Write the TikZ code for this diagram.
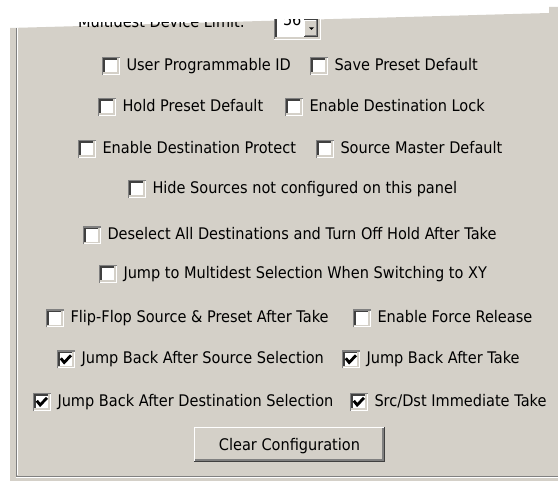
\documentclass[tikz,border=0pt]{standalone}
\usepackage{fontspec}
\setmainfont{DejaVu Sans}
\usepackage{graphicx}
\usetikzlibrary{calc}
\definecolor{winbg}{HTML}{D4D0C8}
\definecolor{shadow}{HTML}{808080}
\definecolor{dkshadow}{HTML}{404040}
\newsavebox\refbox
\newcommand\hs[1]{\scalebox{\sx}[1]{#1}}
\tikzset{
  lbl/.style={inner sep=0pt, outer sep=0pt, anchor=base west, text=black, font=\fontsize{16}{19}\selectfont},
  cbx/.style={minimum width=18pt, minimum height=18pt, inner sep=0pt, outer sep=0pt, fill=white, anchor=west,
    path picture={
      \coordinate (sw) at (path picture bounding box.south west);
      \coordinate (ne) at (path picture bounding box.north east);
      \draw[shadow,line width=1.4pt] ($(sw)+(0.7pt,0pt)$) |- ($(ne)+(0pt,-0.7pt)$);
      \draw[dkshadow,line width=1.4pt] ($(sw)+(2.1pt,1.4pt)$) |- ($(ne)+(-1.4pt,-2.1pt)$);
      \draw[winbg,line width=1.4pt] ($(sw)+(1.4pt,2.1pt)$) -| ($(ne)+(-2.1pt,-1.4pt)$);
    }},
  btn/.style={minimum width=191pt, minimum height=35pt, inner sep=0pt, outer sep=0pt, fill=winbg,
    text height=11.7pt, text depth=0pt, text=black, font=\fontsize{16}{19}\selectfont,
    path picture={
      \coordinate (sw) at (path picture bounding box.south west);
      \coordinate (ne) at (path picture bounding box.north east);
      \draw[white,line width=1.4pt] ($(sw)+(0.7pt,1.4pt)$) |- ($(ne)+(-1.4pt,-0.7pt)$);
      \draw[dkshadow,line width=1.4pt] ($(sw)+(0pt,0.7pt)$) -| ($(ne)+(-0.7pt,0pt)$);
      \draw[shadow,line width=1.4pt] ($(sw)+(1.4pt,2.1pt)$) -| ($(ne)+(-2.1pt,-1.4pt)$);
    }},
  checkmark/.style={line width=2.8pt, black, line join=miter, line cap=butt}
}
\newcommand\chk[1]{\draw[checkmark] ($(#1.west)+(3.8pt,1.2pt)$) -- ($(#1.west)+(7.2pt,-3pt)$) -- ($(#1.west)+(14pt,4.2pt)$);}
\begin{document}
\sbox\refbox{\fontsize{16}{19}\selectfont Deselect All Destinations and Turn Off Hold After Take}%
\pgfmathsetmacro\sx{389/\the\wd\refbox}%
\begin{tikzpicture}[x=1pt,y=-1pt]
\useasboundingbox (0,0) rectangle (558,481);
\fill[white] (0,0) rectangle (558,481);
\fill[winbg] (10,28) -- (549,13) -- (549,7) -- (558,7) -- (558,481) -- (10,481) -- cycle;
% group box border
\draw[shadow,line width=1pt] (16.5,27.8) -- (16.5,476.5) -- (558,476.5);
\draw[white,line width=1pt] (17.5,27.8) -- (17.5,475.5);
\draw[white,line width=1pt] (16,477.5) -- (558,477.5);
% clipped header
\begin{scope}
\clip (0,22.6) rectangle (558,481);
\node[lbl] (mdl) at (78,27.3) {\hs{Multidest Device Limit:}};
\end{scope}
\begin{scope}
\clip (0,19.5) rectangle (558,481);
\fill[white] (274,15) rectangle (321,40);
\draw[shadow,line width=1.4pt] (274.7,15) -- (274.7,39.3);
\draw[dkshadow,line width=1.4pt] (276.1,15) -- (276.1,37.9);
\draw[white,line width=1.4pt] (274,39.3) -- (321,39.3);
\draw[white,line width=1.4pt] (320.3,15) -- (320.3,40);
\draw[winbg,line width=1.4pt] (275.4,37.9) -- (318.9,37.9) -- (318.9,15);
\node[lbl] (spinval) at (283,25.5) {\hs{56}};
\fill[winbg] (304,19.5) rectangle (318.2,37.2);
\draw[white,line width=1.2pt] (304.6,37.2) -- (304.6,20.6) -- (317.6,20.6);
\draw[dkshadow,line width=1.2pt] (304,36.6) -- (317.6,36.6) -- (317.6,19.5);
\draw[shadow,line width=1.2pt] (305.2,35.4) -- (316.4,35.4) -- (316.4,20.5);
\draw[dkshadow,line width=1.2pt] (304,19.6) -- (318.2,19.6);
\fill[black] (309,27.5) -- (314,27.5) -- (311.5,30) -- cycle;
\end{scope}
% rows
\node[cbx] (b1) at (102,66) {};
\node[lbl] (t1) at ($(b1.east)+(6.5pt,-4.5pt)$) {\hs{User Programmable ID}};
\node[cbx] (b2) at (310,66) {};
\node[lbl] (t2) at ($(b2.east)+(6.5pt,-4.5pt)$) {\hs{Save Preset Default}};
\node[cbx] (b3) at (98,107) {};
\node[lbl] (t3) at ($(b3.east)+(6.5pt,-4.5pt)$) {\hs{Hold Preset Default}};
\node[cbx] (b4) at (285,107) {};
\node[lbl] (t4) at ($(b4.east)+(6.5pt,-4.5pt)$) {\hs{Enable Destination Lock}};
\node[cbx] (b5) at (78,149) {};
\node[lbl] (t5) at ($(b5.east)+(6.5pt,-4.5pt)$) {\hs{Enable Destination Protect}};
\node[cbx] (b6) at (316,149) {};
\node[lbl] (t6) at ($(b6.east)+(6.5pt,-4.5pt)$) {\hs{Source Master Default}};
\node[cbx] (b7) at (128,189) {};
\node[lbl] (t7) at ($(b7.east)+(6.5pt,-4.5pt)$) {\hs{Hide Sources not configured on this panel}};
\node[cbx] (b8) at (83,235.5) {};
\node[lbl] (t8) at ($(b8.east)+(6.5pt,-4.5pt)$) {\hs{Deselect All Destinations and Turn Off Hold After Take}};
\node[cbx] (b9) at (99,274) {};
\node[lbl] (t9) at ($(b9.east)+(6.5pt,-4.5pt)$) {\hs{Jump to Multidest Selection When Switching to XY}};
\node[cbx] (b10) at (46,318.5) {};
\node[lbl] (t10) at ($(b10.east)+(6.5pt,-4.5pt)$) {\hs{Flip-Flop Source \& Preset After Take}};
\node[cbx] (b11) at (353,318.5) {};
\node[lbl] (t11) at ($(b11.east)+(6.5pt,-4.5pt)$) {\hs{Enable Force Release}};
\node[cbx] (b12) at (57,359.5) {};
\node[lbl] (t12) at ($(b12.east)+(6.5pt,-4.5pt)$) {\hs{Jump Back After Source Selection}};
\node[cbx] (b13) at (342,359.5) {};
\node[lbl] (t13) at ($(b13.east)+(6.5pt,-4.5pt)$) {\hs{Jump Back After Take}};
\node[cbx] (b14) at (33,402) {};
\node[lbl] (t14) at ($(b14.east)+(6.5pt,-4.5pt)$) {\hs{Jump Back After Destination Selection}};
\node[cbx] (b15) at (350,402) {};
\node[lbl] (t15) at ($(b15.east)+(6.5pt,-4.5pt)$) {\hs{Src/Dst Immediate Take}};
\chk{b12}\chk{b13}\chk{b14}\chk{b15}
% button
\node[btn] (clear) at (289.5,444.5) {\hs{Clear Configuration}};
\end{tikzpicture}
\end{document}
